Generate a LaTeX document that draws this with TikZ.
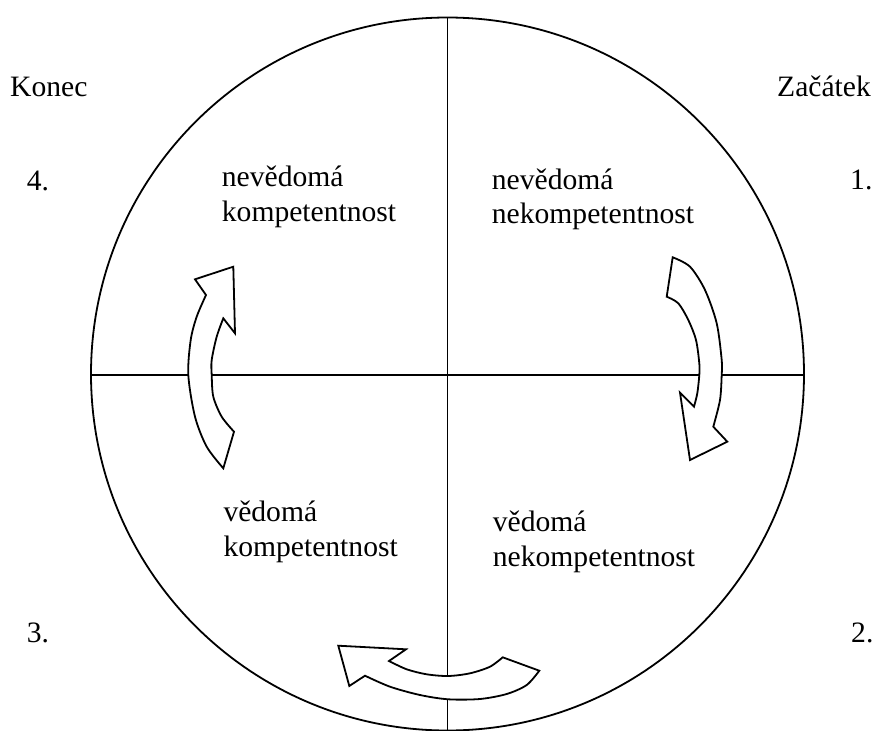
\documentclass[tikz,border=0pt]{standalone}
\usepackage{fontspec}
\setmainfont{Liberation Serif}
\begin{document}
\begin{tikzpicture}[x=1pt,y=-1pt,
  lbl/.style={anchor=base west,inner sep=0pt,font=\fontsize{29.6}{35}\selectfont},
  frame/.style={line width=1.8pt},
  bigarrow/.style={draw,fill=white,line width=1.8pt,line join=miter}]
\useasboundingbox (0,0) rectangle (879,731);
% circle and axes
\coordinate (C) at (447.5,374);
\coordinate (T) at (447.5,17.5);
\coordinate (B) at (447.5,730.5);
\coordinate (L) at (91,375);
\coordinate (R) at (804,375);
\draw[frame] (C) circle[radius=356.5pt];
\draw[frame] (T) -- (B);
\draw[frame] (L) -- (R);
% left arrow (upwards)
\draw[bigarrow] (223.3,468.3) -- plot[smooth] coordinates {(223.3,468.3) (206.7,446.7) (195,416.7) (188.3,375) (190.7,340) (196.7,316.7) (206,295)}
  -- (195,279.3) -- (233.3,266.7) -- (235,333.3) -- (223.3,318.3)
  -- plot[smooth] coordinates {(223.3,318.3) (216.7,336.7) (211.7,360) (211.7,375) (213.3,396.7) (221.7,416.7) (234,431.7)}
  -- cycle;
% right arrow (downwards)
\draw[bigarrow] (672.7,257.3) -- plot[smooth] coordinates {(672.7,257.3) (690,266.7) (705,290) (716.7,323.3) (721.7,360) (721.7,375) (720,400) (713.3,426.7)}
  -- (727.3,441.7) -- (690,460) -- (680,392.7) -- (694,406.7)
  -- plot[smooth] coordinates {(694,406.7) (697.3,393.3) (699.3,375) (699.3,363.3) (696,340) (688.3,320) (678.3,303.3) (666.7,296.7)}
  -- cycle;
% bottom arrow (leftwards)
\draw[bigarrow] (539.3,670.7) -- plot[smooth] coordinates {(539.3,670.7) (526.7,685) (506.7,694) (480,699) (448.3,699.3) (420,695) (390,686.7) (365,675.7)}
  -- (349.3,686) -- (338.3,645.7) -- (406,649.3) -- (389,661)
  -- plot[smooth] coordinates {(389,661) (406.7,669.3) (426.7,674.3) (448.3,676) (470,673.3) (490,666.7) (502.7,657.3)}
  -- cycle;
% labels
\node[lbl] (konec) at (10,96.7) {Konec};
\node[lbl] (zacatek) at (777,96) {Začátek};
\node[lbl] (n4) at (26.7,190) {4.};
\node[lbl] (n1) at (850,189) {1.};
\node[lbl] (n3) at (26.7,642.7) {3.};
\node[lbl] (n2) at (851,642.7) {2.};
\node[lbl] (nk1) at (221.7,186.7) {nevědomá};
\node[lbl] (nk2) at (221.7,221.7) {kompetentnost};
\node[lbl] (nn1) at (491.7,189) {nevědomá};
\node[lbl] (nn2) at (491.7,223) {nekompetentnost};
\node[lbl] (vk1) at (223.3,521) {vědomá};
\node[lbl] (vk2) at (223.3,556) {kompetentnost};
\node[lbl] (vn1) at (492.7,531) {vědomá};
\node[lbl] (vn2) at (492.7,566) {nekompetentnost};
\end{tikzpicture}
\end{document}
